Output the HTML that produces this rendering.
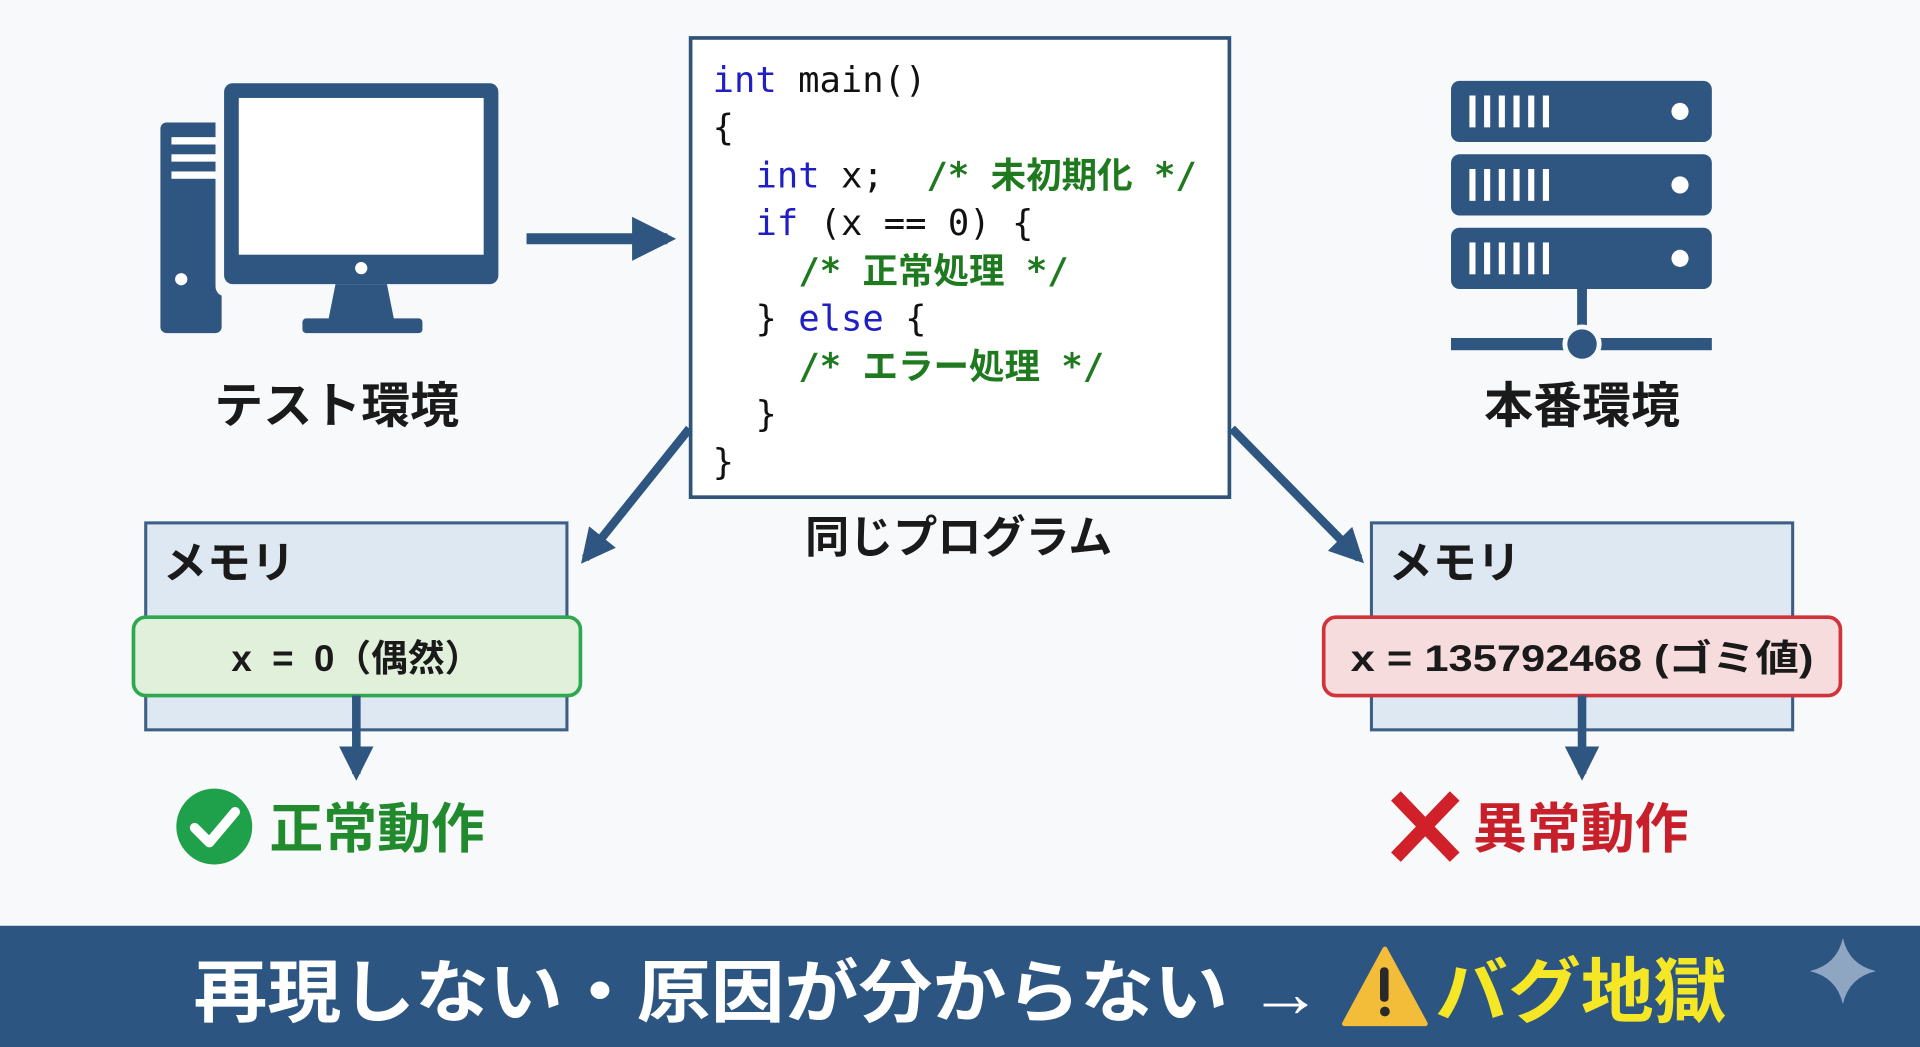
<!DOCTYPE html>
<html><head><meta charset="utf-8"><style>
html,body{margin:0;padding:0;background:#f8f9fa;}
svg{display:block;}
text{font-family:"Liberation Sans","Noto Sans CJK JP",sans-serif;}
.m text{font-family:"DejaVu Sans Mono","Liberation Mono","Noto Sans CJK JP",monospace;font-size:29px;white-space:pre;}
</style></head><body>
<svg width="1920" height="1047" viewBox="0 0 1568 855" preserveAspectRatio="none" xmlns="http://www.w3.org/2000/svg">
<defs>
<marker id="ah" viewBox="0 0 10 10" refX="8" refY="5" markerWidth="4" markerHeight="4" orient="auto"><path d="M0,0 L10,5 L0,10 z" fill="#2e5680"/></marker>
</defs>
<rect width="1568" height="855" fill="#f8f9fa"/>
<!-- computer -->
<g fill="#2e5680">
<rect x="131" y="100" width="50" height="172" rx="5"/>
<rect x="140" y="112" width="38" height="6" fill="#fff"/>
<rect x="140" y="126" width="38" height="6" fill="#fff"/>
<rect x="140" y="140" width="38" height="6" fill="#fff"/>
<circle cx="148" cy="228" r="5" fill="#fff"/>
<rect x="176" y="62" width="238" height="180" rx="8" fill="#f8f9fa"/>
<rect x="183" y="68" width="224" height="164" rx="7"/>
<rect x="195" y="80" width="200" height="128" fill="#fff"/>
<circle cx="295" cy="219" r="5" fill="#fff"/>
<path d="M274,232 L316,232 L322,262 L268,262 z"/>
<rect x="247" y="260" width="98" height="12" rx="3"/>
</g>
<line x1="430" y1="195" x2="545" y2="195" stroke="#2e5680" stroke-width="9" marker-end="url(#ah)"/>
<text x="275" y="345" font-size="40" font-weight="bold" text-anchor="middle" fill="#1a1a1a">テスト環境</text>
<!-- code -->
<rect x="564" y="31" width="440" height="375" fill="#fff" stroke="#2f5379" stroke-width="3"/>
<g class="m">
<text x="582" y="75"><tspan fill="#1f1fc4">int</tspan><tspan fill="#111"> main()</tspan></text>
<text x="582" y="114" fill="#111">{</text>
<text x="617" y="153"><tspan fill="#1f1fc4">int</tspan><tspan fill="#111"> x;  </tspan><tspan fill="#1f7a1f" font-weight="bold">/* 未初期化 */</tspan></text>
<text x="617" y="192"><tspan fill="#1f1fc4">if</tspan><tspan fill="#111"> (x == 0) {</tspan></text>
<text x="652" y="231" fill="#1f7a1f" font-weight="bold">/* 正常処理 */</text>
<text x="617" y="270"><tspan fill="#111">} </tspan><tspan fill="#1f1fc4">else</tspan><tspan fill="#111"> {</tspan></text>
<text x="652" y="309" fill="#1f7a1f" font-weight="bold">/* エラー処理 */</text>
<text x="617" y="348" fill="#111">}</text>
<text x="582" y="387" fill="#111">}</text>
</g>
<text x="783" y="451" font-size="36" font-weight="bold" text-anchor="middle" fill="#1a1a1a">同じプログラム</text>
<!-- server -->
<g fill="#2e5680">
<rect x="1185" y="66" width="213" height="50" rx="7"/>
<rect x="1185" y="126" width="213" height="50" rx="7"/>
<rect x="1185" y="186" width="213" height="50" rx="7"/>
<g fill="#fff">
<rect x="1200" y="78" width="5" height="26"/><rect x="1212" y="78" width="5" height="26"/><rect x="1224" y="78" width="5" height="26"/><rect x="1236" y="78" width="5" height="26"/><rect x="1248" y="78" width="5" height="26"/><rect x="1260" y="78" width="5" height="26"/>
<rect x="1200" y="138" width="5" height="26"/><rect x="1212" y="138" width="5" height="26"/><rect x="1224" y="138" width="5" height="26"/><rect x="1236" y="138" width="5" height="26"/><rect x="1248" y="138" width="5" height="26"/><rect x="1260" y="138" width="5" height="26"/>
<rect x="1200" y="198" width="5" height="26"/><rect x="1212" y="198" width="5" height="26"/><rect x="1224" y="198" width="5" height="26"/><rect x="1236" y="198" width="5" height="26"/><rect x="1248" y="198" width="5" height="26"/><rect x="1260" y="198" width="5" height="26"/>
<circle cx="1372" cy="91" r="7"/><circle cx="1372" cy="151" r="7"/><circle cx="1372" cy="211" r="7"/>
</g>
<rect x="1288" y="236" width="8" height="36"/>
<rect x="1185" y="276" width="213" height="10"/>
<circle cx="1292" cy="281" r="16" fill="#f8f9fa"/>
<circle cx="1292" cy="281" r="12"/>
</g>
<text x="1292" y="345" font-size="40" font-weight="bold" text-anchor="middle" fill="#1a1a1a">本番環境</text>
<!-- diagonal arrows -->
<line x1="563" y1="350" x2="478" y2="456" stroke="#2e5680" stroke-width="7" marker-end="url(#ah)"/>
<line x1="1006" y1="350" x2="1110" y2="456" stroke="#2e5680" stroke-width="7" marker-end="url(#ah)"/>
<!-- left memory -->
<rect x="119" y="427" width="344" height="169" fill="#dde8f3" stroke="#3d5f85" stroke-width="2.5"/>
<text x="133" y="472" font-size="36" font-weight="bold" fill="#1a1a1a">メモリ</text>
<rect x="109" y="504" width="365" height="64" rx="10" fill="#e1f0da" stroke="#2fa84f" stroke-width="3"/>
<text x="291" y="548" font-size="30" font-weight="bold" text-anchor="middle" fill="#1a1a1a" style="white-space:pre">x  =  0（偶然）</text>
<line x1="291" y1="568" x2="291" y2="632" stroke="#2e5680" stroke-width="7" marker-end="url(#ah)"/>
<circle cx="175" cy="675" r="31" fill="#1fa04a"/>
<path d="M159,676 L171,688 L192,663" fill="none" stroke="#fff" stroke-width="8" stroke-linecap="round" stroke-linejoin="round"/>
<text x="220" y="692" font-size="44" font-weight="bold" fill="#218a2c">正常動作</text>
<!-- right memory -->
<rect x="1120" y="427" width="344" height="169" fill="#dde8f3" stroke="#3d5f85" stroke-width="2.5"/>
<text x="1134" y="472" font-size="36" font-weight="bold" fill="#1a1a1a">メモリ</text>
<rect x="1081" y="504" width="422" height="64" rx="10" fill="#f6dcdc" stroke="#d0333a" stroke-width="3"/>
<text x="1292" y="548" font-size="30" font-weight="bold" text-anchor="middle" fill="#1a1a1a" textLength="378" lengthAdjust="spacingAndGlyphs">x = 135792468 (ゴミ値)</text>
<line x1="1292" y1="568" x2="1292" y2="632" stroke="#2e5680" stroke-width="7" marker-end="url(#ah)"/>
<path d="M1140,650 L1188,700 M1188,650 L1140,700" stroke="#d0202a" stroke-width="11"/>
<text x="1203" y="692" font-size="44" font-weight="bold" fill="#c8202a">異常動作</text>
<!-- bottom band -->
<rect x="0" y="756" width="1568" height="99" fill="#2c5582"/>
<text x="158" y="830" font-size="56" font-weight="bold" fill="#fff" textLength="922" lengthAdjust="spacingAndGlyphs">再現しない・原因が分からない →</text>
<path d="M1131,775 L1164,836 L1098,836 z" fill="#f3bd3a" stroke="#f3bd3a" stroke-width="4" stroke-linejoin="round"/>
<rect x="1127" y="790" width="7" height="28" rx="3" fill="#2a2a2a"/>
<circle cx="1131" cy="826" r="4" fill="#2a2a2a"/>
<text x="1172" y="830" font-size="58" font-weight="bold" fill="#f5e626" textLength="238" lengthAdjust="spacingAndGlyphs">バグ地獄</text>
<path d="M1505,766 Q1510,788 1532,793 Q1510,798 1505,820 Q1500,798 1478,793 Q1500,788 1505,766 z" fill="#8fa6c2"/>
</svg>
</body></html>
